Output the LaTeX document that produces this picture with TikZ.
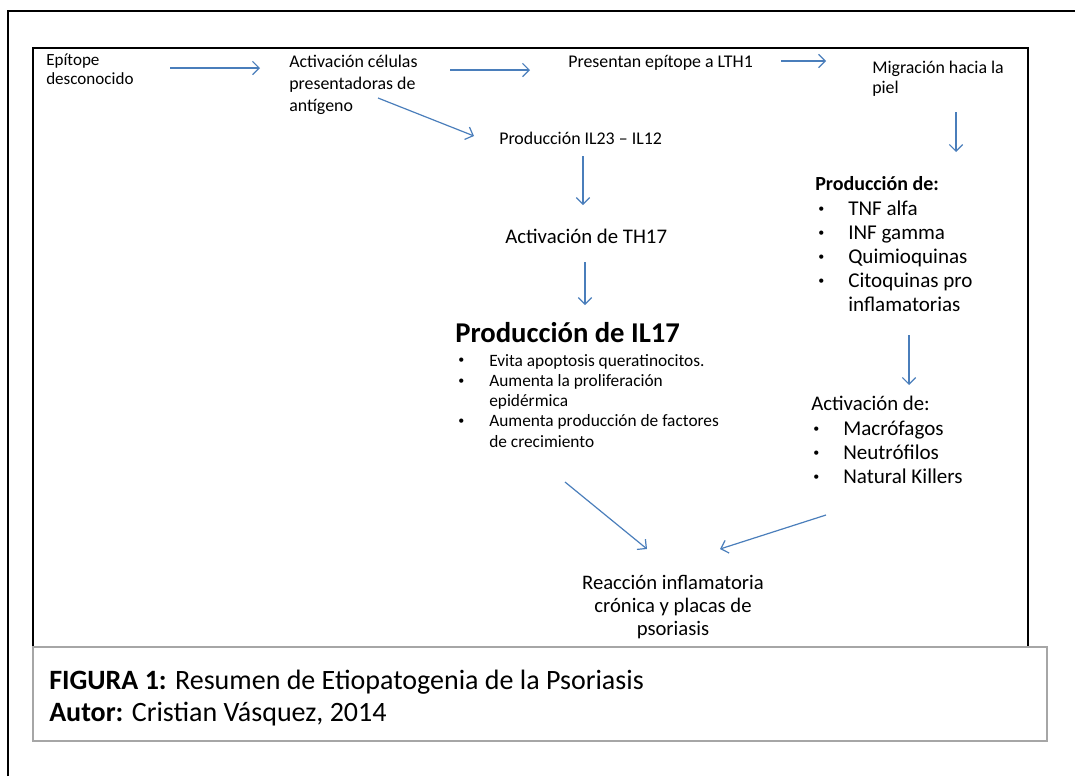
\documentclass[tikz,border=0pt]{standalone}
\usepackage{fontspec}
\setmainfont{Carlito}
\usetikzlibrary{arrows.meta}
\definecolor{azul}{HTML}{4A7EBB}
\newcommand{\vin}{\raisebox{0.12em}{\fontsize{9}{9}\selectfont•}}

\begin{document}
\begin{tikzpicture}[x=0.75pt,y=-0.75pt,>={Straight Barb[length=5pt,width=10pt]},
  every node/.style={inner sep=0pt,anchor=base west},
  flecha/.style={->,azul,line width=0.9pt},
  chico/.style={font=\fontsize{13.4}{16.5}\selectfont},
  medio/.style={font=\fontsize{15.8}{18}\selectfont},
  lista/.style={font=\fontsize{13}{15.2}\selectfont}]
\useasboundingbox (0,0) rectangle (1075,776);
\draw[line width=1.8pt] (8,776) -- (8,11) -- (1075,11);
\draw[line width=1.3pt] (33,647) -- (33,48) -- (1028,48) -- (1028,647);
\draw[black!35,line width=1.5pt] (33,647) rectangle (1047,741);

\node[font=\fontsize{12.8}{14.8}\selectfont] (epi) at (46,65) {\begin{tabular}[t]{@{}l@{}}Epítope\\desconocido\end{tabular}};
\node[chico] (acp) at (289,67) {\begin{tabular}[t]{@{}l@{}}Activación células\\presentadoras de\\antígeno\end{tabular}};
\node[chico] (lth) at (568,67) {Presentan epítope a LTH1};
\node[font=\fontsize{13.4}{15}\selectfont] (mig) at (872,73) {\begin{tabular}[t]{@{}l@{}}Migración hacia la\\piel\end{tabular}};
\node[chico] (il23) at (499,144) {Producción IL23 – IL12};
\node[font=\fontsize{15.6}{18}\selectfont] (th17) at (505,243) {Activación de TH17};
\node[font=\fontsize{21.5}{24}\selectfont\bfseries] (il17) at (455,342) {Producción de IL17};
\node[lista] (efectos) at (458,366) {\begin{tabular}[t]{@{}p{23.25pt}@{}l@{}}
\vin&Evita apoptosis queratinocitos.\\
\vin&Aumenta la proliferación\\
&epidérmica\\
\vin&Aumenta producción de factores\\
&de crecimiento\end{tabular}};
\node[font=\fontsize{15}{18}\selectfont\bfseries] (prod) at (815,190) {Producción de:};
\node[medio] (citoq) at (818,215) {\begin{tabular}[t]{@{}p{22.5pt}@{}l@{}}
\vin&TNF alfa\\
\vin&INF gamma\\
\vin&Quimioquinas\\
\vin&Citoquinas pro\\
&inflamatorias\end{tabular}};
\node[font=\fontsize{15.6}{18}\selectfont] (act) at (811,410) {Activación de:};
\node[medio] (celulas) at (813,435) {\begin{tabular}[t]{@{}p{22.5pt}@{}l@{}}
\vin&Macrófagos\\
\vin&Neutrófilos\\
\vin&Natural Killers\end{tabular}};
\node[font=\fontsize{15.5}{17.6}\selectfont,anchor=base] (reac) at (673,589) {\begin{tabular}[t]{@{}c@{}}Reacción inflamatoria\\crónica y placas de\\psoriasis\end{tabular}};
\node[font=\fontsize{21}{24}\selectfont] (fig) at (49,689) {\begin{tabular}[t]{@{}l@{}}\textbf{FIGURA 1:} Resumen de Etiopatogenia de la Psoriasis\\\textbf{Autor:} Cristian Vásquez, 2014\end{tabular}};

\coordinate (a1s) at (170,68);
\coordinate (a1e) at (260,68);
\coordinate (a2s) at (450,70);
\coordinate (a2e) at (530,70);
\coordinate (a3s) at (781,61);
\coordinate (a3e) at (826,61);
\coordinate (dgs) at (378,98);
\coordinate (dge) at (474,136);
\coordinate (d1s) at (583,156);
\coordinate (d1e) at (583,205);
\coordinate (d2s) at (585,262);
\coordinate (d2e) at (585,305);
\coordinate (r1s) at (956,112);
\coordinate (r1e) at (956,152);
\coordinate (r2s) at (909,335);
\coordinate (r2e) at (909,385);
\coordinate (c1s) at (565,482);
\coordinate (c1e) at (647,549);
\coordinate (c2s) at (826,515);
\coordinate (c2e) at (720,549);
\draw[flecha] (a1s) -- (a1e);
\draw[flecha] (a2s) -- (a2e);
\draw[flecha] (a3s) -- (a3e);
\draw[flecha] (dgs) -- (dge);
\draw[flecha] (d1s) -- (d1e);
\draw[flecha] (d2s) -- (d2e);
\draw[flecha] (r1s) -- (r1e);
\draw[flecha] (r2s) -- (r2e);
\draw[flecha] (c1s) -- (c1e);
\draw[flecha] (c2s) -- (c2e);
\end{tikzpicture}
\end{document}
